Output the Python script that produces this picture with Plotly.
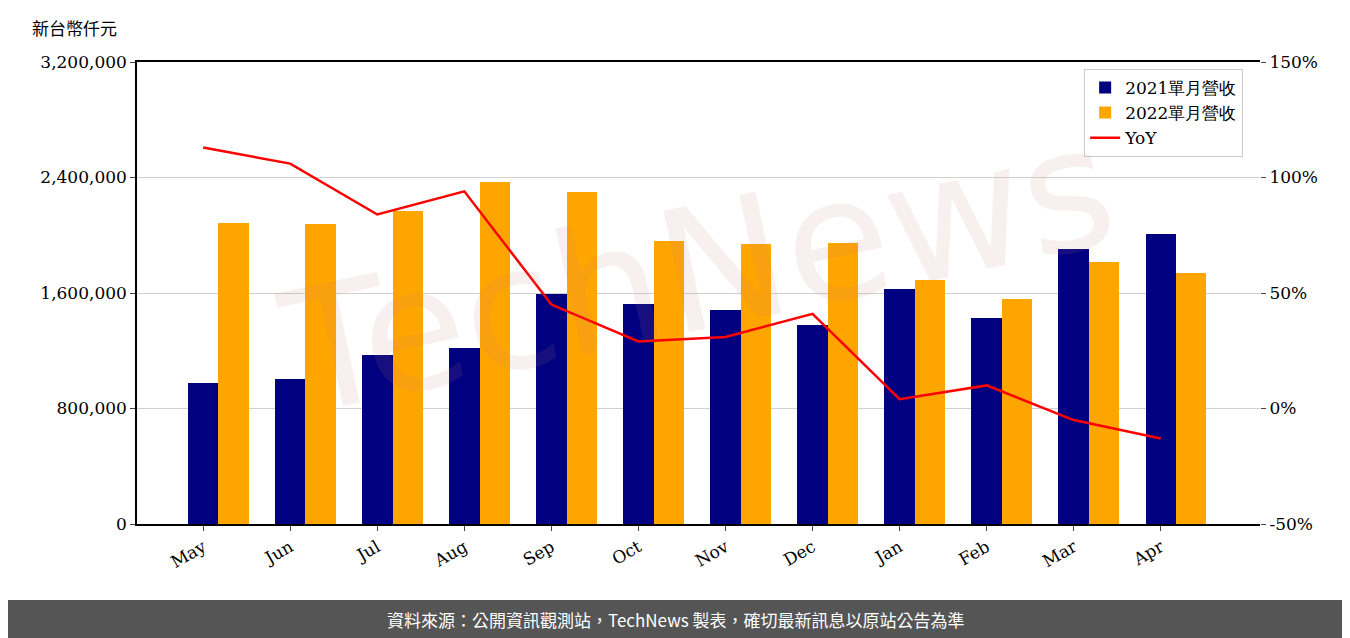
import plotly.graph_objects as go

months = ['May', 'Jun', 'Jul', 'Aug', 'Sep', 'Oct', 'Nov', 'Dec', 'Jan', 'Feb', 'Mar', 'Apr']
rev_2021 = [976000, 1004000, 1171000, 1219000, 1593000, 1524000, 1482000, 1378000, 1628000, 1427000, 1905000, 2009000]
rev_2022 = [2085000, 2078000, 2168000, 2369000, 2300000, 1960000, 1939000, 1946000, 1690000, 1558000, 1815000, 1738000]
yoy = [113, 106, 84, 94, 45, 29, 31, 41, 4, 10, -5, -13]
yoy_ticks = [-50, 0, 50, 100, 150]

idx = list(range(len(months)))
serif = 'DejaVu Serif'

fig = go.Figure()
fig.add_trace(go.Bar(x=idx, y=rev_2021, width=0.35, offset=-0.175, marker_color='#000080',
                     marker_line_width=0, name='2021單月營收'))
fig.add_trace(go.Bar(x=idx, y=rev_2022, width=0.35, offset=0.175, marker_color='#FFA500',
                     marker_line_width=0, name='2022單月營收'))
fig.add_trace(go.Scatter(x=idx, y=yoy, mode='lines', line=dict(color='red', width=2.5),
                         name='YoY', yaxis='y2'))

fig.update_layout(
    width=1350, height=630,
    margin=dict(l=129, r=98, t=54, b=114),
    plot_bgcolor='white', paper_bgcolor='white',
    font=dict(family=serif, size=17, color='black'),
    showlegend=True,
    legend=dict(x=0.985, y=0.985, xanchor='right', yanchor='top', bordercolor='#cccccc',
                borderwidth=1, bgcolor='rgba(255,255,255,0.8)', font=dict(size=17, family=serif)),
    xaxis=dict(range=[-0.76, 12.14], tickmode='array', tickvals=idx, ticktext=months,
               tickangle=-30, showline=True, linecolor='black', linewidth=1.5, mirror=True,
               ticks='outside', showgrid=False),
    yaxis=dict(range=[0, 3200000], tickvals=[0, 800000, 1600000, 2400000, 3200000],
               tickformat=',d', showgrid=True, gridcolor='#d0d0d0', ticks='outside',
               showline=True, linecolor='black', linewidth=1.5, zeroline=False),
    yaxis2=dict(range=[-50, 150], overlaying='y', side='right', tickmode='array',
                tickvals=yoy_ticks, ticktext=[f'{v}%' for v in yoy_ticks],
                showgrid=False, ticks='outside', zeroline=False),
    bargap=0,
)

fig.add_annotation(text='新台幣仟元', xref='paper', yref='paper', x=-0.095, y=1.074,
                   showarrow=False, xanchor='left', yanchor='middle',
                   font=dict(family='Noto Sans CJK TC', size=17))

# watermark
fig.add_annotation(text='TechNews', xref='paper', yref='paper', x=0.5, y=0.55, showarrow=False,
                   textangle=-12, font=dict(family='DejaVu Sans', size=170, color='rgba(200,120,120,0.12)'))

# footer band
fig.add_shape(type='rect', xref='paper', yref='paper', x0=-0.3, x1=1.3, y0=-0.3, y1=-0.1645,
              fillcolor='#555555', line_width=0, layer='above')
fig.add_annotation(text='資料來源：公開資訊觀測站，TechNews 製表，確切最新訊息以原站公告為準',
                   xref='paper', yref='paper', x=0.48, y=-0.206, yanchor='middle', showarrow=False,
                   font=dict(family='Noto Sans CJK TC', size=17, color='white'))

fig.write_html('out.html')
